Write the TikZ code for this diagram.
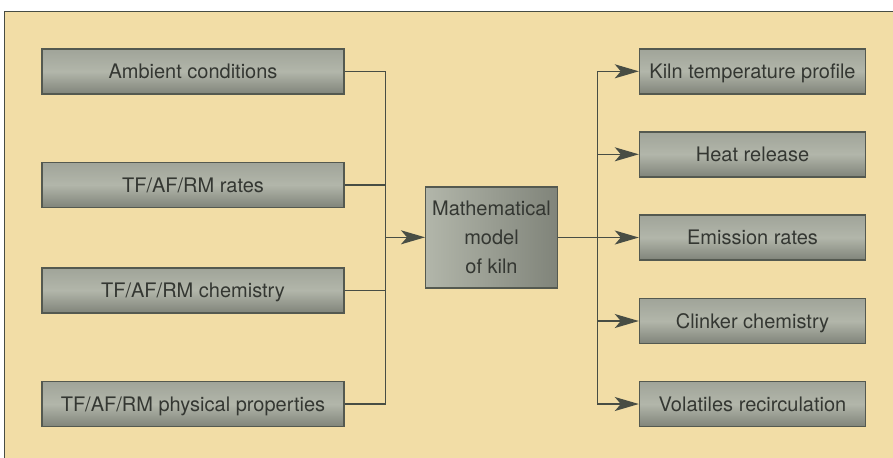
\documentclass[tikz,border=0pt]{standalone}
\usepackage{fontspec}
\setmainfont{TeX Gyre Heros}
\usepackage{xcolor}
\usetikzlibrary{arrows.meta, positioning}
\definecolor{panelbg}{RGB}{242,221,166}
\definecolor{linegray}{RGB}{72,77,68}
\definecolor{boxedge}{RGB}{84,89,80}
\definecolor{boxlight}{RGB}{178,182,170}
\definecolor{boxmid}{RGB}{160,164,153}
\definecolor{boxdark}{RGB}{128,132,122}
\definecolor{textgray}{RGB}{52,55,50}

\begin{document}
\begin{tikzpicture}[x=0.5pt, y=-0.5pt, >={Stealth[length=12pt, width=7pt, inset=3pt]}]

        % Styles
        \tikzset{
            inbox/.style={draw=boxedge, line width=0.7pt, top color=boxmid, bottom color=boxdark, middle color=boxlight, text=textgray, font=\fontsize{10}{12}\selectfont, minimum width=151pt, minimum height=22.5pt, inner sep=0pt, text height=7.2pt, text depth=0pt},
            outbox/.style={inbox, minimum width=113pt},
            modelbox/.style={draw=boxedge, line width=0.7pt, left color=boxlight, right color=boxdark, text=textgray, font=\fontsize{10}{14.5}\selectfont, align=center, minimum width=65.8pt, minimum height=50.5pt, inner sep=0pt},
            wire/.style={draw=linegray, line width=0.7pt},
            feed/.style={wire, ->}
        }

        % --- Panel ---
        \useasboundingbox (0,0) rectangle (893,457);
        \fill[white] (0,0) rectangle (893,457);
        \draw[fill=panelbg, draw=linegray, line width=0.8pt] (4.5,11.5) rectangle (900,465);

        % --- Inputs (left) ---
        \node[inbox] (ambient) at (193,71.5) {Ambient conditions};
        \node[inbox] (rates) at (193,184.8) {TF/AF/RM rates};
        \node[inbox] (chem) at (193,290.3) {TF/AF/RM chemistry};
        \node[inbox] (phys) at (193,404) {TF/AF/RM physical properties};

        % --- Model (centre) ---
        \node[modelbox] (model) at (491.5,237.3) {Mathematical\\model\\of kiln};

        % --- Outputs (right) ---
        \node[outbox] (temp) at (752.5,71.3) {Kiln temperature profile};
        \node[outbox] (heat) at (752.5,154.3) {Heat release};
        \node[outbox] (emis) at (752.5,237.5) {Emission rates};
        \node[outbox] (clink) at (752.5,321) {Clinker chemistry};
        \node[outbox] (volat) at (752.5,404) {Volatiles recirculation};

        % Bus points
        \coordinate (inbus) at (385.7,237.3);
        \coordinate (outbus) at (597.7,237.3);

        % Inputs into the bus
        \foreach \n in {ambient, rates, chem, phys}
            \draw[wire] (\n.east) -| (inbus);
        \draw[feed] (inbus) -- (model.west);

        % Bus out to the outputs
        \draw[wire] (model.east) -- (outbus);
        \foreach \n in {temp, heat, emis, clink, volat}
            \draw[feed] (outbus) |- (\n.west);

    \end{tikzpicture}
\end{document}
